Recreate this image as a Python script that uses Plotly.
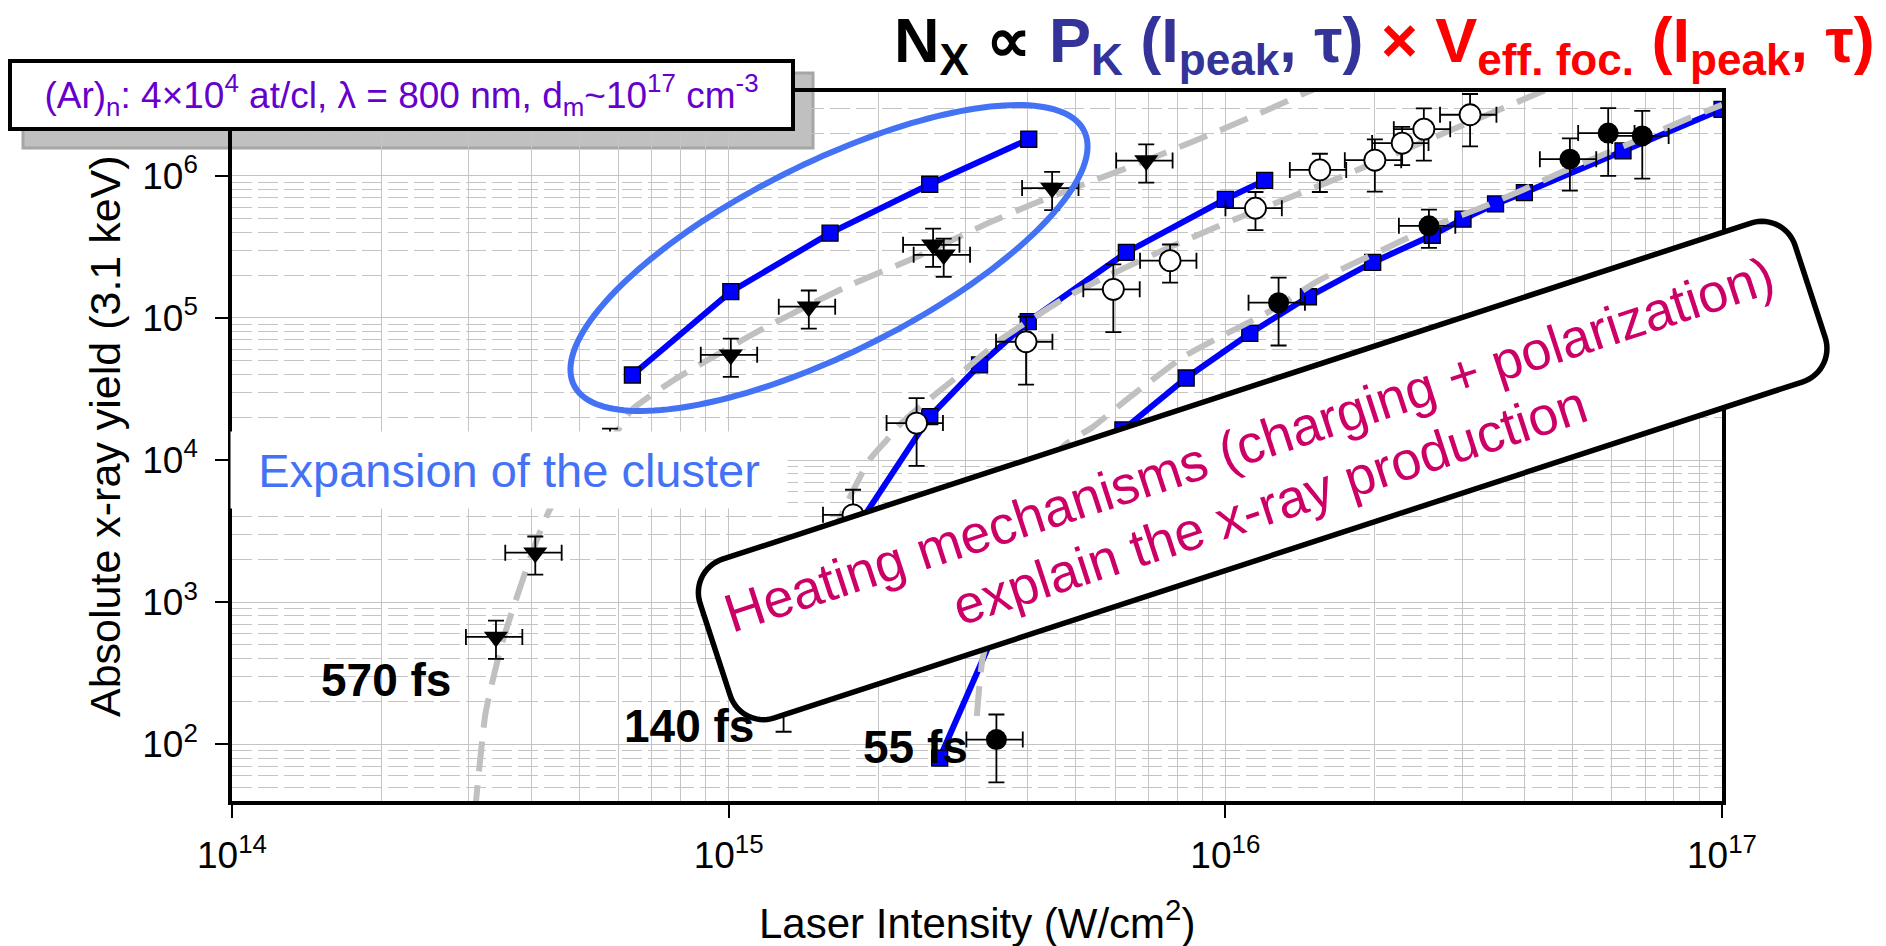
import numpy as np
import plotly.graph_objects as go

# ---------------- data ----------------
# 570 fs : model (blue squares), measurement (down triangles), gray fit
x570_model = [6.40e14, 1.01e15, 1.60e15, 2.54e15, 4.02e15]
y570_model = [3.97e4, 1.53e5, 3.95e5, 8.73e5, 1.81e6]
x570_data = [3.40e14, 4.08e14, 5.77e14, 1.01e15, 1.45e15, 2.58e15, 2.71e15, 4.48e15, 6.93e15]
y570_data = [5.7e2, 2.23e3, 1.28e4, 5.5e4, 1.2e5, 3.27e5, 2.78e5, 8.2e5, 1.28e6]
yerr570_rel = [0.3, 0.3, 0.3, 0.3, 0.3, 0.3, 0.3, 0.3, 0.3]
x570_fit = [3.08e14, 3.24e14, 3.48e14, 3.69e14, 4.06e14, 4.36e14, 4.91e14, 5.93e14, 6.37e14,
            7.76e14, 1.16e15, 1.72e15, 2.39e15, 3.34e15, 4.05e15, 5.60e15, 6.73e15, 8.49e15,
            1.00e16, 1.23e16, 1.45e16, 1.55e16]
y570_fit = [31.6, 166, 486, 929, 2.46e3, 4.46e3, 8.53e3, 1.55e4, 2.25e4,
            3.66e4, 8.24e4, 1.65e5, 2.69e5, 4.67e5, 6.24e5, 9.66e5, 1.23e6, 1.71e6,
            2.17e6, 2.96e6, 3.84e6, 4.23e6]

# 140 fs : model, measurement (open circles), gray fit
x140_model = [1.43e15, 1.67e15, 2.54e15, 3.20e15, 4.01e15, 6.32e15, 1.00e16, 1.20e16]
y140_model = [5.4e2, 2.19e3, 2.02e4, 4.67e4, 9.42e4, 2.89e5, 6.84e5, 9.29e5]
x140_data = [1.29e15, 1.78e15, 2.39e15, 3.97e15, 5.95e15, 7.74e15, 1.15e16, 1.55e16,
             2.00e16, 2.27e16, 2.51e16, 3.11e16]
y140_data = [245, 4.12e3, 1.82e4, 6.8e4, 1.59e5, 2.53e5, 5.92e5, 1.10e6,
             1.29e6, 1.70e6, 2.13e6, 2.69e6]
yerr140_rel = [0.5, 0.5, 0.5, 0.5, 0.5, 0.3, 0.3, 0.3, 0.4, 0.3, 0.4, 0.4]
x140_fit = [1.46e15, 1.67e15, 1.92e15, 2.08e15, 2.21e15, 2.43e15, 2.83e15, 3.52e15, 4.80e15,
            5.86e15, 7.38e15, 9.46e15, 1.21e16, 1.67e16, 2.67e16, 3.26e16, 4.27e16, 4.62e16]
y140_fit = [692, 3.78e3, 1.0e4, 1.38e4, 1.77e4, 2.38e4, 3.66e4, 7.0e4, 1.41e5,
            2.01e5, 2.93e5, 4.28e5, 6.07e5, 9.5e5, 1.91e6, 2.56e6, 3.83e6, 4.29e6]

# 55 fs : model, measurement (filled circles), gray fit
x55_model = [2.66e15, 3.52e15, 6.22e15, 8.34e15, 1.12e16, 1.47e16, 1.98e16, 2.61e16,
             3.01e16, 3.50e16, 4.00e16, 6.32e16, 1.00e17]
y55_model = [80, 750, 1.63e4, 3.78e4, 7.78e4, 1.41e5, 2.46e5, 3.82e5,
             4.96e5, 6.34e5, 7.62e5, 1.50e6, 2.94e6]
x55_data = [3.46e15, 1.28e16, 2.57e16, 4.94e16, 5.90e16, 6.91e16]
y55_data = [108, 1.28e5, 4.45e5, 1.31e6, 2.0e6, 1.91e6]
yerr55_rel = [0.5, 0.5, 0.3, 0.4, 0.5, 0.5]
x55_fit = [3.16e15, 3.25e15, 3.86e15, 4.71e15, 5.41e15, 6.43e15, 8.22e15, 1.01e16, 1.21e16,
           1.55e16, 2.07e16, 2.58e16, 3.26e16, 3.97e16, 4.72e16, 5.68e16, 7.16e16, 8.61e16, 1.00e17]
y55_fit = [158, 411, 2.74e3, 1.24e4, 1.71e4, 2.78e4, 5.31e4, 7.83e4, 1.08e5,
           1.85e5, 3.01e5, 4.31e5, 5.94e5, 7.96e5, 1.05e6, 1.38e6, 1.94e6, 2.56e6, 3.16e6]

x_err_rel = 0.13   # relative intensity uncertainty

x_tick_vals = [1e14, 1e15, 1e16, 1e17]
x_tick_text = ["10<sup>14</sup>", "10<sup>15</sup>", "10<sup>16</sup>", "10<sup>17</sup>"]
y_tick_vals = [1e2, 1e3, 1e4, 1e5, 1e6]
y_tick_text = ["10<sup>2</sup>", "10<sup>3</sup>", "10<sup>4</sup>", "10<sup>5</sup>", "10<sup>6</sup>"]

# ---------------- layout geometry ----------------
W, H = 1886, 946
ML, MR, MT, MB = 232, 164, 92, 145
PW, PH = W - ML - MR, H - MT - MB
FONT = "Liberation Sans, Arial, sans-serif"
GRID = "#c4c4c4"
BLUE = "#0000ff"
FITC = "#c0c0c0"


def px(X):
    return (X - ML) / PW


def py(Y):
    return (H - MB - Y) / PH


def rel_err(vals, rel):
    return [v * r for v, r in zip(vals, rel)]


fig = go.Figure()

# model curves
for xs, ys in [(x570_model, y570_model), (x140_model, y140_model), (x55_model, y55_model)]:
    fig.add_trace(go.Scatter(
        x=xs, y=ys, mode="lines+markers",
        line=dict(color=BLUE, width=6),
        marker=dict(symbol="square", size=16, color=BLUE, line=dict(color="black", width=1.3)),
        showlegend=False, hoverinfo="skip"))

# fits (gray dashed)
for xs, ys in [(x570_fit, y570_fit), (x140_fit, y140_fit), (x55_fit, y55_fit)]:
    fig.add_trace(go.Scatter(
        x=xs, y=ys, mode="lines",
        line=dict(color=FITC, width=6, dash="30px,14px", shape="spline", smoothing=0.5),
        showlegend=False, hoverinfo="skip"))


def err_kw(xs, ys, rel):
    return dict(
        error_y=dict(type="data", array=rel_err(ys, rel), color="black", thickness=1.8, width=8),
        error_x=dict(type="data", array=[x * x_err_rel for x in xs], color="black", thickness=1.8, width=8))


fig.add_trace(go.Scatter(
    x=x570_data, y=y570_data, mode="markers",
    marker=dict(symbol="triangle-down", size=21, color="black"),
    showlegend=False, **err_kw(x570_data, y570_data, yerr570_rel)))
fig.add_trace(go.Scatter(
    x=x140_data, y=y140_data, mode="markers",
    marker=dict(symbol="circle", size=21, color="white", line=dict(color="black", width=1.8)),
    showlegend=False, **err_kw(x140_data, y140_data, yerr140_rel)))
fig.add_trace(go.Scatter(
    x=x55_data, y=y55_data, mode="markers",
    marker=dict(symbol="circle", size=21, color="black"),
    showlegend=False, **err_kw(x55_data, y55_data, yerr55_rel)))

# ---------------- decorations ----------------
shapes = []
# shadow of the parameter box
shapes.append(dict(type="rect", xref="paper", yref="paper",
                   x0=px(23), x1=px(813), y0=py(148), y1=py(73),
                   fillcolor="#c0c0c0", line=dict(color="#a6a6a6", width=3), layer="below"))

# ellipse around the 570 fs model
cx, cy, a, b, phi = 829, 258, 285, 95, np.radians(26.5)
t = np.linspace(0, 2 * np.pi, 181)
EX = cx + a * np.cos(t) * np.cos(phi) + b * np.sin(t) * np.sin(phi)
EY = cy - a * np.cos(t) * np.sin(phi) + b * np.sin(t) * np.cos(phi)
path = "M " + " L ".join(f"{px(x):.5f},{py(y):.5f}" for x, y in zip(EX, EY)) + " Z"
shapes.append(dict(type="path", xref="paper", yref="paper", path=path,
                   line=dict(color="#4472f4", width=6), layer="above"))

# rotated rounded box
th = np.radians(18.1)
u0, u1, v0, v1, r = 478, 1630, 756, 923, 35
pts = []
for (cu, cv, a0) in [(u0 + r, v0 + r, 180), (u1 - r, v0 + r, 270), (u1 - r, v1 - r, 0), (u0 + r, v1 - r, 90)]:
    for ang in np.radians(np.linspace(a0, a0 + 90, 16)):
        uu, vv = cu + r * np.cos(ang), cv + r * np.sin(ang)
        X = uu * np.cos(th) + vv * np.sin(th)
        Y = -uu * np.sin(th) + vv * np.cos(th)
        pts.append((X, Y))
path = "M " + " L ".join(f"{px(x):.5f},{py(y):.5f}" for x, y in pts) + " Z"
shapes.append(dict(type="path", xref="paper", yref="paper", path=path,
                   fillcolor="white", line=dict(color="black", width=5.5), layer="above"))

annotations = []


def ann(text, X, Y, size, color="black", **kw):
    d = dict(text=text, x=px(X), y=py(Y), xref="paper", yref="paper", showarrow=False,
             xanchor="center", yanchor="middle",
             font=dict(family=FONT, size=size, color=color))
    d.update(kw)
    annotations.append(d)


ann('<b>N<sub>X</sub> ∝ <span style="color:#333399">P<sub>K</sub> (I<sub>peak</sub>, τ)</span> '
    '<span style="color:#ff0000">× V<sub>eff. foc.</sub> (I<sub>peak</sub>, τ)</span></b>',
    1384, 44, 63)
ann('(Ar)<sub>n</sub>: 4×10<sup>4</sup> at/cl, λ = 800 nm, d<sub>m</sub>~10<sup>17</sup> cm<sup>-3</sup>',
    401.5, 95, 37, color="#6600cc", width=779, height=64, bgcolor="white",
    bordercolor="black", borderwidth=4, borderpad=0)
ann("Expansion of the cluster", 509, 470, 47, color="#4472f4",
    width=556, height=76, bgcolor="white", borderpad=0)
ann("<b>570 fs</b>", 386, 680, 46)
ann("<b>140 fs</b>", 689, 726, 46)
ann("<b>55 fs</b>", 915, 747, 46)
ann("Heating mechanisms (charging + polarization)", 1249, 444, 54, color="#cc0066", textangle=-18.1)
ann("explain the x-ray production", 1269, 505, 54, color="#cc0066", textangle=-18.1)
ann("Absolute x-ray yield (3.1 keV)", 105, 436, 43, textangle=-90)
ann("Laser Intensity (W/cm<sup>2</sup>)", 977, 920, 42)

axis_common = dict(
    type="log",
    showline=True, linewidth=3.5, linecolor="black", mirror=True,
    ticks="outside", ticklen=13, tickwidth=2, tickcolor="black",
    tickfont=dict(family=FONT, size=37, color="black"),
    showgrid=True, gridcolor=GRID, gridwidth=1.3, zeroline=False,
)

fig.update_layout(
    width=W, height=H, autosize=False,
    margin=dict(l=ML, r=MR, t=MT, b=MB, pad=0),
    paper_bgcolor="white", plot_bgcolor="white",
    showlegend=False,
    xaxis=dict(range=[14, 17], tickmode="array", tickvals=x_tick_vals, ticktext=x_tick_text,
               ticklabelstandoff=6,
               minor=dict(dtick="D1", showgrid=True, gridcolor=GRID, gridwidth=1.3, ticks=""),
               **axis_common),
    yaxis=dict(range=[1.601, 6.590], tickmode="array", tickvals=y_tick_vals, ticktext=y_tick_text,
               ticklabelstandoff=10,
               minor=dict(dtick="D1", showgrid=True, gridcolor=GRID, gridwidth=1.3, ticks="",
                          griddash="20px,6px"),
               **axis_common),
    shapes=shapes,
    annotations=annotations,
)

fig.write_html("out.html")
